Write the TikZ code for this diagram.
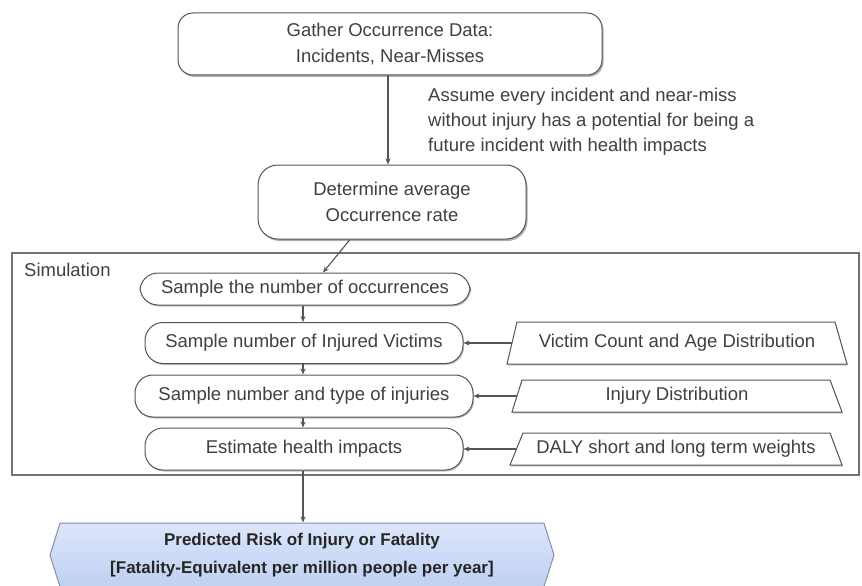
\documentclass[tikz,border=0pt]{standalone}
\usepackage{fontspec}
\setmainfont{Liberation Sans}
\usetikzlibrary{shapes.geometric,shapes.symbols,arrows.meta,shadows,calc}
\definecolor{txt}{HTML}{404040}
\definecolor{ln}{HTML}{555555}
\definecolor{hexfillA}{HTML}{DCE6FA}
\definecolor{hexfillB}{HTML}{BFD0F2}
\definecolor{hexline}{HTML}{8090B0}
\begin{document}
\begin{tikzpicture}[x=1pt,y=-1pt,
  every node/.style={text=txt},
  basefont/.style={font=\fontsize{18.5}{26}\selectfont},
  procbox/.style={basefont, draw=ln, line width=1pt, fill=white, rounded corners=#1, align=center, inner sep=0pt,
     drop shadow={shadow xshift=1.5pt, shadow yshift=-2pt, fill=black!45, opacity=0.7}},
  procbox/.default=15pt,
  simbox/.style={basefont, draw=ln, line width=1pt, fill=white, rounded corners=18pt, align=center, inner sep=0pt,
     drop shadow={shadow xshift=1pt, shadow yshift=-1.5pt, fill=black!40, opacity=0.6}},
  inpoly/.style={draw=ln, line width=1pt, fill=white,
     drop shadow={shadow xshift=1pt, shadow yshift=-1.5pt, fill=black!35, opacity=0.6}},
  intext/.style={basefont, inner sep=0pt},
  arr/.style={draw=ln, line width=1.1pt, -{Stealth[length=6pt,width=5pt]}},
]
\useasboundingbox (0,0) rectangle (862,586);
\fill[white] (0,0) rectangle (862,586);

% top boxes
\node[procbox=15pt, minimum width=424pt, minimum height=62pt] (gather) at (390,44)
  {Gather Occurrence Data:\\Incidents, Near-Misses};
\node[procbox=20pt, minimum width=268pt, minimum height=74pt] (rate) at (392,202)
  {Determine average\\Occurrence rate};
\node[anchor=north west, align=left, font=\fontsize{18.5}{25}\selectfont, inner sep=0pt] (note) at (428,88)
  {Assume every incident and near-miss\\without injury has a potential for being a\\future incident with health impacts};

% simulation frame
\draw[draw=black!55, line width=1.6pt] (12,253) rectangle (859,475);
\node[basefont, anchor=west, inner sep=0pt] (simlabel) at (24,270) {Simulation};

% simulation steps
\node[simbox, minimum width=330pt, minimum height=32pt] (s1) at (305,289) {Sample the number of occurrences};
\node[simbox, minimum width=318pt, minimum height=41pt] (s2) at (304,343) {Sample number of Injured Victims};
\node[simbox, minimum width=338pt, minimum height=42pt] (s3) at (304,396) {Sample number and type of injuries};
\node[simbox, minimum width=318pt, minimum height=42pt] (s4) at (304,449) {Estimate health impacts};

% inputs (trapezoids, wider at the bottom)
\path[inpoly] (507,364) -- (517,322) -- (835,322) -- (847,364) -- cycle;
\path[inpoly] (512,412) -- (522,380) -- (830,380) -- (842,412) -- cycle;
\path[inpoly] (510,465) -- (523,433) -- (830,433) -- (842,465) -- cycle;
\node[intext] (t1) at (677,343) {Victim Count and Age Distribution};
\node[intext] (t2) at (677,396) {Injury Distribution};
\node[intext] (t3) at (676,449) {DALY short and long term weights};
\coordinate (t1w) at (512,343);
\coordinate (t2w) at (517,396);
\coordinate (t3w) at (516,449);

% result
\node[signal, signal to=west and east, signal pointer angle=145,
      draw=hexline, line width=1pt, top color=hexfillA, bottom color=hexfillB,
      minimum width=504pt, minimum height=64pt, inner sep=0pt, align=center,
      text=black!85, font=\fontsize{17}{28}\selectfont\bfseries] (result) at (302,555)
  {Predicted Risk of Injury or Fatality\\{[}Fatality-Equivalent per million people per year{]}};

% connectors
\draw[arr] (gather.south -| 388,0) -- (rate.north -| 388,0);
\draw[arr] ([xshift=-42pt]rate.south) -- ([xshift=18pt]s1.north);
\draw[arr] (s1.south -| 303,0) -- (s2.north -| 303,0);
\draw[arr] (s2.south -| 303,0) -- (s3.north -| 303,0);
\draw[arr] (s3.south -| 303,0) -- (s4.north -| 303,0);
\draw[arr] (t1w) -- (s2.east);
\draw[arr] (t2w) -- (s3.east);
\draw[arr] (t3w) -- (s4.east);
\draw[arr] (s4.south -| 303,0) -- (result.north -| 303,0);
\end{tikzpicture}
\end{document}
